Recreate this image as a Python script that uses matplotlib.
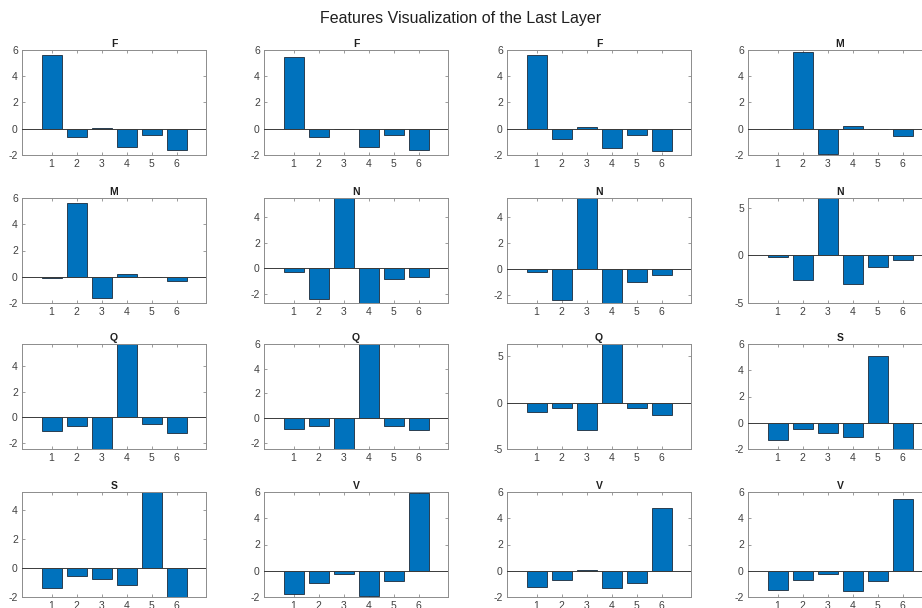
import numpy as np
import matplotlib
matplotlib.use("Agg")
import matplotlib.pyplot as plt

plt.rcParams['font.family'] = ['Liberation Sans', 'DejaVu Sans']
plt.rcParams['axes.unicode_minus'] = False

# class output activations for each of the 16 test samples
classes = [1, 2, 3, 4, 5, 6]
titles = ['F', 'F', 'F', 'M',
          'M', 'N', 'N', 'N',
          'Q', 'Q', 'Q', 'S',
          'S', 'V', 'V', 'V']
activations = [
    [5.6, -0.65, 0.05, -1.4, -0.5, -1.6],
    [5.45, -0.6, 0.0, -1.4, -0.45, -1.65],
    [5.6, -0.8, 0.1, -1.5, -0.5, -1.7],
    [0.0, 5.85, -1.9, 0.2, -0.05, -0.55],
    [-0.1, 5.6, -1.6, 0.2, 0.0, -0.35],
    [-0.3, -2.4, 5.5, -2.7, -0.8, -0.7],
    [-0.25, -2.4, 5.5, -2.65, -1.0, -0.45],
    [-0.15, -2.6, 6.0, -3.0, -1.2, -0.45],
    [-1.05, -0.65, -2.46, 5.73, -0.5, -1.25],
    [-0.9, -0.6, -2.5, 6.0, -0.65, -1.0],
    [-1.0, -0.6, -2.9, 6.35, -0.6, -1.35],
    [-1.35, -0.45, -0.8, -1.1, 5.1, -2.0],
    [-1.4, -0.6, -0.8, -1.2, 5.27, -2.03],
    [-1.75, -0.9, -0.25, -1.9, -0.8, 5.95],
    [-1.2, -0.7, 0.05, -1.3, -0.9, 4.8],
    [-1.45, -0.7, -0.25, -1.55, -0.8, 5.5],
]
# y limits of each panel (auto limits from the plotting tool)
ylims = [
    (-2, 6), (-2, 6), (-2, 6), (-2, 6),
    (-2, 6), (-2.7, 5.5), (-2.65, 5.5), (-5, 6),
    (-2.46, 5.73), (-2.5, 6), (-5, 6.35), (-2, 6),
    (-2.03, 5.27), (-2, 6), (-2, 6), (-2, 6),
]
yticks = [
    [-2, 0, 2, 4, 6], [-2, 0, 2, 4, 6], [-2, 0, 2, 4, 6], [-2, 0, 2, 4, 6],
    [-2, 0, 2, 4, 6], [-2, 0, 2, 4], [-2, 0, 2, 4], [-5, 0, 5],
    [-2, 0, 2, 4], [-2, 0, 2, 4, 6], [-5, 0, 5], [-2, 0, 2, 4, 6],
    [-2, 0, 2, 4], [-2, 0, 2, 4, 6], [-2, 0, 2, 4, 6], [-2, 0, 2, 4, 6],
]

W, H = 922, 608
fig = plt.figure(figsize=(W / 100, H / 100), dpi=100)
fig.suptitle('Features Visualization of the Last Layer', fontsize=11.5,
             y=1 - 18 / H, va='center', color='#202020')

col_left = [22, 264, 507, 748]
row_top = [50, 198, 344, 492]
ax_w, ax_h = 184, 105

bar_color = '#0072BD'
box_color = '#8c8c8c'

for i in range(16):
    r, c = divmod(i, 4)
    ax = fig.add_axes([col_left[c] / W, 1 - (row_top[r] + ax_h) / H,
                       ax_w / W, ax_h / H])
    ax.bar(classes, activations[i], width=0.8, color=bar_color,
           edgecolor='#1c2a3a', linewidth=0.6, zorder=2)
    ax.axhline(0, color='#3a3a3a', linewidth=0.7, zorder=3)
    ax.set_xlim(-0.18, 7.18)
    ax.set_ylim(*ylims[i])
    ax.set_xticks(classes)
    ax.set_yticks(yticks[i])
    ax.tick_params(direction='in', length=2.5, width=0.6, colors=box_color,
                   labelcolor='#404040', labelsize=7.5, top=True, right=True,
                   pad=3)
    for s in ax.spines.values():
        s.set_color(box_color)
        s.set_linewidth(0.7)
    ax.set_title(titles[i], fontsize=7.5, fontweight='bold', pad=2,
                 color='#202020')

fig.savefig('out.png', dpi=100)
